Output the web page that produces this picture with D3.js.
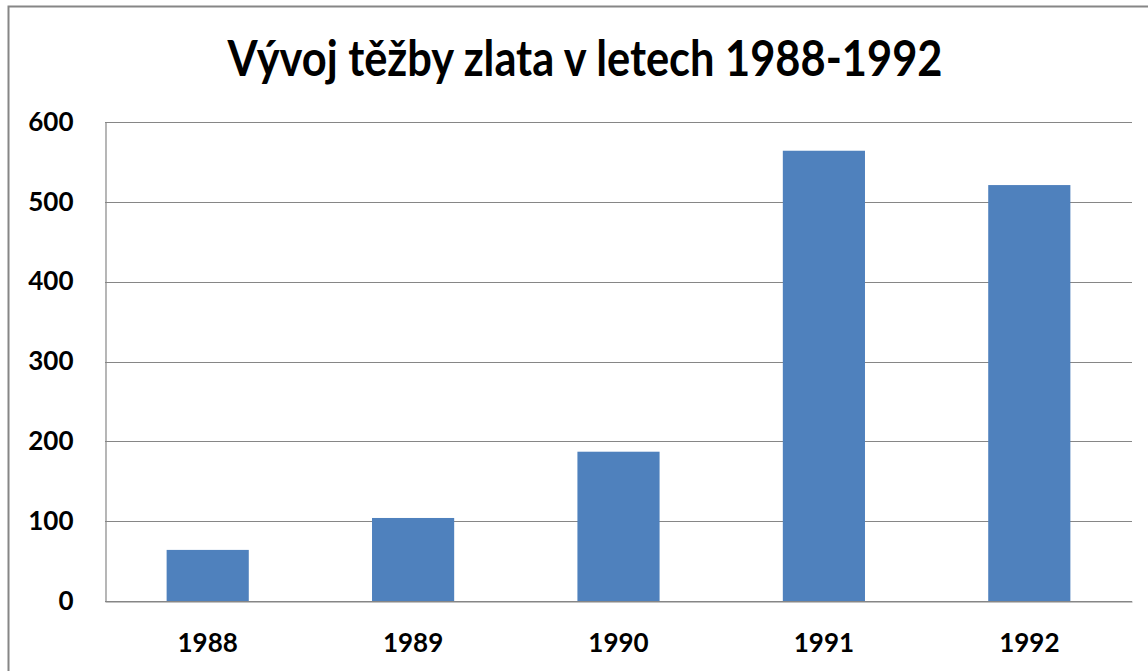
<!DOCTYPE html>
<html lang="cs">
<head>
<meta charset="utf-8">
<title>Vývoj těžby zlata</title>
<script src="https://cdn.jsdelivr.net/npm/d3@7"></script>
<style>
  body { margin: 0; background: #fff; }
  svg { display: block; font-family: Lato, "Open Sans", sans-serif; font-weight: bold; }
  .grid line { stroke: #868686; stroke-width: 1.2; }
  .axis path { stroke: #868686; stroke-width: 1.2; }
  .axis text { fill: #000; font-size: 26px; font-weight: bold; font-family: Lato, sans-serif; }
</style>
</head>
<body>
<script>
// data
var years = ["1988", "1989", "1990", "1991", "1992"];
var tezba = [64, 104, 187, 564, 521];
var yTicks = [0, 100, 200, 300, 400, 500, 600];
var title = "Vývoj těžby zlata v letech 1988-1992";

var w = 1148, h = 671;
var mLeft = 105, mRight = 1132, mTop = 122, mBottom = 601;

var svg = d3.select("body").append("svg")
  .attr("width", w)
  .attr("height", h);

// outer frame (cut off at right/bottom)
svg.append("rect")
  .attr("x", 8.5).attr("y", 6.5)
  .attr("width", 1300).attr("height", 800)
  .attr("fill", "none")
  .attr("stroke", "#868686")
  .attr("stroke-width", 2);

var x = d3.scaleBand()
  .domain(years)
  .range([mLeft, mRight])
  .paddingInner(0.6)
  .paddingOuter(0.3);

var y = d3.scaleLinear()
  .domain([0, 600])
  .range([mBottom, mTop]);

// gridlines
svg.append("g")
  .attr("class", "grid")
  .selectAll("line")
  .data(yTicks)
  .enter()
  .append("line")
  .attr("x1", mLeft)
  .attr("x2", mRight)
  .attr("y1", function(d){ return Math.round(y(d)) + 0.5; })
  .attr("y2", function(d){ return Math.round(y(d)) + 0.5; });

// bars
svg.selectAll("rect.bar")
  .data(tezba)
  .enter()
  .append("rect")
  .attr("class", "bar")
  .attr("x", function(d, i){ return x(years[i]); })
  .attr("y", function(d){ return y(d); })
  .attr("width", x.bandwidth())
  .attr("height", function(d){ return y(0) - y(d); })
  .attr("fill", "#4f81bd");

var yAxis = d3.axisLeft(y)
  .tickValues(yTicks)
  .tickSize(0)
  .tickPadding(32);

svg.append("g")
  .attr("class", "axis")
  .attr("transform", "translate(" + (mLeft + 0.5) + ",0)")
  .call(yAxis);

var xAxis = d3.axisBottom(x)
  .tickSize(0)
  .tickPadding(32);

svg.append("g")
  .attr("class", "axis")
  .attr("transform", "translate(0," + (mBottom + 0.5) + ")")
  .call(xAxis);

svg.append("text")
  .attr("x", 585)
  .attr("y", 76)
  .attr("text-anchor", "middle")
  .attr("font-size", 50)
  .attr("textLength", 715)
  .attr("lengthAdjust", "spacingAndGlyphs")
  .attr("fill", "#000")
  .text(title);
</script>
</body>
</html>
